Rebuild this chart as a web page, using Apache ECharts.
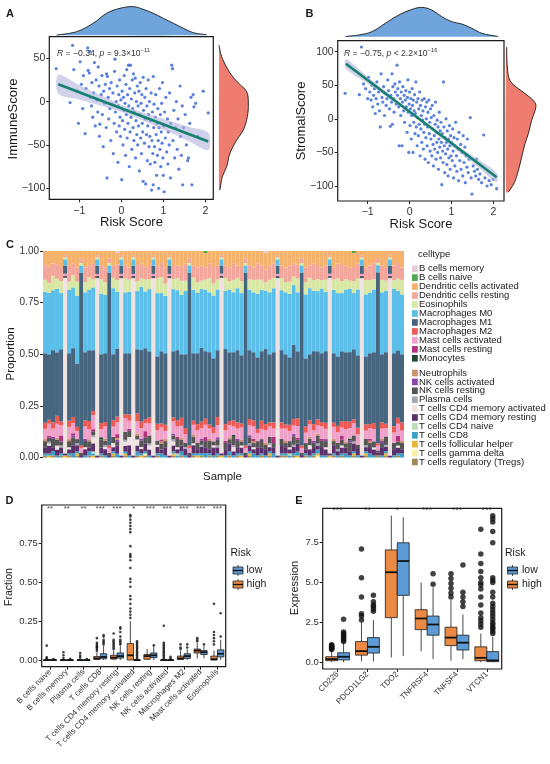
<!DOCTYPE html>
<html>
<head>
<meta charset="utf-8">
<script src="https://cdn.jsdelivr.net/npm/echarts/dist/echarts.min.js"></script>
<style>
html,body{margin:0;padding:0;background:#fff}
#main{width:550px;height:764px}
</style>
</head>
<body>
<div id="main"></div>
<script>
var FONT = 'Liberation Sans, Arial, sans-serif';

// ---------- A: ImmuneScore vs Risk Score ----------
var immunePts = [
  [-1.55,38],[-1.22,-1],[-1.16,65],[-1.13,37],[-1.05,12],[-1.02,-25],[-0.98,46],[-0.95,20],[-0.92,-8],
  [-0.9,30],[-0.86,-37],[-0.84,15],[-0.8,62],[-0.79,36],[-0.76,33],[-0.75,58],[-0.73,5],[-0.71,-5],[-0.7,22],
  [-0.68,-18],[-0.66,10],[-0.64,45],[-0.62,-28],[-0.6,25],[-0.58,2],[-0.56,-12],[-0.55,40],[-0.53,18],[-0.52,-40],[-0.51,-26],
  [-0.48,8],[-0.46,30],[-0.45,-15],[-0.43,-52],[-0.42,12],[-0.4,-2],[-0.38,20],[-0.36,-30],[-0.35,32],[-0.34,-88],
  [-0.33,29],[-0.31,5],[-0.3,-20],[-0.28,15],[-0.27,-8],[-0.25,-45],[-0.24,22],[-0.22,-3],[-0.2,10],[-0.19,-60],
  [-0.17,-25],[-0.16,35],[-0.15,49],[-0.14,-12],[-0.12,0],[-0.11,-35],[-0.1,18],[-0.08,-70],[-0.07,-5],[-0.06,8],
  [-0.05,-28],[-0.04,25],[-0.03,-18],[-0.02,-40],[-0.01,2],
  [0.01,-90],[0.02,12],[0.03,-22],[0.04,-50],[0.05,5],[0.06,-10],[0.07,30],[0.08,-32],[0.09,-2],[0.1,-62],
  [0.11,20],[0.12,-15],[0.13,37],[0.14,-42],[0.15,8],[0.16,-25],[0.17,42],[0.18,-5],[0.19,-75],[0.2,15],
  [0.21,-35],[0.22,42],[0.23,-18],[0.24,3],[0.25,-55],[0.26,25],[0.27,-8],[0.28,-30],[0.29,32],[0.3,-45],
  [0.31,-12],[0.32,10],[0.33,27],[0.34,-65],[0.35,-22],[0.36,0],[0.37,-38],[0.38,18],[0.39,-50],[0.4,-5],
  [0.41,-28],[0.42,12],[0.43,-80],[0.44,-15],[0.45,22],[0.46,-42],[0.47,-2],[0.48,-60],[0.49,8],[0.5,-25],
  [0.51,-35],[0.52,28],[0.52,-92],[0.53,-10],[0.55,-48],[0.56,5],[0.57,-20],[0.58,-95],[0.59,15],[0.6,-38],
  [0.61,-5],[0.62,-68],[0.63,-28],[0.64,25],[0.65,-15],[0.66,-52],[0.67,0],[0.68,-40],[0.69,-72],[0.7,-22],
  [0.71,10],[0.72,-102],[0.73,-45],[0.74,-12],[0.75,-60],[0.76,29],[0.76,-96],[0.77,-30],[0.78,-3],[0.79,-52],
  [0.8,-70],[0.81,-18],[0.82,8],[0.83,-38],[0.84,-85],[0.85,-25],[0.86,-62],[0.87,-8],[0.88,-45],[0.89,-100],
  [0.9,-30],[0.91,15],[0.92,-55],[0.93,-15],[0.94,-75],[0.95,-35],[0.96,-2],[0.97,-48],[0.98,22],[0.99,-65],
  [1.0,-85],[1.01,-28],[1.02,-104],[1.03,-12],[1.05,-42],[1.06,5],[1.08,-58],[1.1,-20],[1.11,-72],[1.12,-35],
  [1.14,-50],[1.15,10],[1.17,-88],[1.18,-25],[1.2,42],[1.22,38],[1.23,-45],[1.25,-10],[1.27,-65],[1.29,-30],
  [1.31,0],[1.33,-55],[1.35,-20],[1.37,-78],[1.4,18],[1.41,-40],[1.43,-62],[1.45,-5],[1.46,-96],[1.48,-30],
  [1.52,-15],[1.55,-50],[1.58,-68],[1.6,-65],[1.63,-25],[1.66,5],[1.68,-96],[1.71,8],[1.73,-6],[1.77,-2],
  [1.82,-40],[1.95,12],[2.07,-13]
];
var immuneFit = [[-1.5, 20], [2.07, -46]];
var immuneBandX = [-1.5, -1, -0.5, 0, 0.4, 0.8, 1.2, 1.6, 2.07];
var immuneBandHi = [31, 19, 7.5, -3.5, -10.5, -17, -23, -29, -36];
var immuneBandLo = [9, 2.5, -4.5, -12, -19.5, -28, -36.5, -45.5, -56];
var riskDensAX = [-1.54, -1.06, -0.67, -0.35, -0.03, 0.29, 0.52, 0.76, 1.0, 1.24, 1.48, 1.71, 2.03];
var riskDensA = [0.005, 0.055, 0.18, 0.33, 0.405, 0.43, 0.39, 0.33, 0.255, 0.18, 0.105, 0.04, 0.01];
var immuneDensY = [65.3, 51.8, 33, 21.5, 11.5, -1.6, -17.4, -32.7, -44.3, -59.3, -75, -86.6, -102];
var immuneDens = [0, 0.04, 0.165, 0.29, 0.415, 0.44, 0.425, 0.365, 0.265, 0.165, 0.115, 0.05, 0.015];

// ---------- B: StromalScore vs Risk Score ----------
var stromalPts = [
  [-1.54,38],[-1.2,36],[-1.15,107],[-1.1,52],[-1.05,45],[-1.0,30],[-0.98,62],
  [-0.95,40],[-0.92,28],[-0.9,50],[-0.88,18],[-0.86,35],[-0.84,45],[-0.82,8],[-0.8,30],[-0.78,55],[-0.76,22],
  [-0.74,40],[-0.72,12],[-0.7,-12],[-0.68,67],[-0.66,32],[-0.64,25],[-0.62,48],[-0.6,5],[-0.58,38],[-0.56,20],
  [-0.54,30],[-0.52,58],
  [-0.5,42],[-0.48,15],[-0.46,-11],[-0.45,35],[-0.43,25],[-0.42,67],[-0.41,-8],[-0.4,48],[-0.38,30],[-0.37,10],
  [-0.35,52],[-0.34,40],[-0.32,22],[-0.3,80],[-0.29,35],[-0.28,45],[-0.26,18],[-0.25,-40],[-0.24,55],[-0.22,30],
  [-0.21,5],[-0.2,40],[-0.18,-40],[-0.17,25],[-0.16,48],[-0.14,12],[-0.13,35],[-0.12,-5],[-0.1,28],[-0.09,42],
  [-0.08,18],[-0.06,-20],[-0.05,32],[-0.04,58],[-0.03,10],[-0.02,-50],[-0.01,22],
  [0.0,40],[0.01,-10],[0.02,15],[0.03,30],[0.04,-30],[0.05,5],[0.06,45],[0.07,20],[0.08,-50],[0.09,28],
  [0.1,-5],[0.11,12],[0.12,36],[0.13,-22],[0.14,8],[0.15,55],[0.16,-12],[0.17,25],[0.18,-40],[0.19,2],
  [0.2,30],[0.21,-25],[0.22,15],[0.23,-8],[0.24,40],[0.25,-55],[0.26,20],[0.27,-15],[0.28,5],[0.29,-35],
  [0.3,28],[0.31,-2],[0.32,12],[0.33,-45],[0.34,-20],[0.35,30],[0.36,-8],[0.37,-60],[0.38,18],[0.39,-28],
  [0.4,0],[0.41,25],[0.42,-40],[0.43,-12],[0.44,10],[0.45,-65],[0.46,28],[0.47,-22],[0.48,-5],[0.49,-48],[0.5,15],
  [0.51,-30],[0.52,2],[0.53,-55],[0.54,20],[0.55,-15],[0.56,-38],[0.57,-70],[0.58,5],[0.59,-25],[0.6,-45],
  [0.61,-8],[0.62,25],[0.63,-60],[0.64,-20],[0.65,-35],[0.66,-2],[0.67,-50],[0.68,-12],[0.69,-75],[0.7,-30],
  [0.71,10],[0.72,-42],[0.73,-18],[0.74,-58],[0.75,-5],[0.76,-35],[0.77,-98],[0.78,-22],[0.79,-48],[0.8,-65],
  [0.81,55],[0.82,-12],[0.83,-40],[0.84,-80],[0.85,-28],[0.86,-52],[0.87,0],[0.88,-35],[0.89,-68],[0.9,-18],
  [0.91,-45],[0.92,-85],[0.93,-30],[0.94,-58],[0.95,-10],[0.96,-40],[0.97,-75],[0.98,-25],[0.99,-55],
  [1.0,-35],[1.02,-62],[1.03,-15],[1.04,-48],[1.05,-88],[1.06,-28],[1.08,-70],[1.09,-40],[1.1,-5],[1.12,-55],
  [1.13,-78],[1.14,-30],[1.16,-45],[1.17,-92],[1.18,-20],[1.2,-62],[1.22,-38],[1.23,-75],[1.25,-50],[1.27,-85],
  [1.28,-25],[1.3,-65],[1.32,-42],[1.33,-95],[1.35,-55],[1.37,-72],[1.38,-30],[1.4,-80],[1.42,-60],[1.45,2],
  [1.47,-88],[1.49,-112],
  [1.52,-70],[1.55,-78],[1.58,-85],[1.6,-60],[1.62,-75],[1.65,-90],[1.68,-82],[1.72,-95],[1.77,-24],[1.8,-88],
  [1.85,-100],[1.9,-92],[1.95,-98],[2.0,-90],[2.08,-104]
];
var stromalFit = [[-1.52, 82], [2.08, -87]];
var stromalBandX = [-1.52, -1, -0.5, 0, 0.4, 0.8, 1.2, 1.6, 2.08];
var stromalBandHi = [89, 62.5, 37.5, 13, -5.5, -24, -42, -59, -80];
var stromalBandLo = [75, 52.5, 30.5, 8, -10.5, -30, -50, -70, -94];
var riskDensBX = [-1.54, -1.22, -0.9, -0.58, -0.26, 0.06, 0.29, 0.53, 0.77, 1.01, 1.25, 1.49, 1.73, 2.11];
var riskDensB = [0.003, 0.025, 0.075, 0.2, 0.325, 0.41, 0.44, 0.4, 0.3, 0.225, 0.19, 0.125, 0.05, 0.005];
var stromalDensY = [107, 77, 57, 45, 32, 22, 12, -2, -22, -37, -57, -77, -95, -109];
var stromalDens = [0.01, 0.02, 0.06, 0.185, 0.36, 0.445, 0.435, 0.385, 0.335, 0.285, 0.235, 0.185, 0.125, 0.035];

// ---------- C: CIBERSORT proportions (percent per sample) ----------
var cellTypes = ['B cells memory','B cells naive','Dendritic cells activated','Dendritic cells resting','Eosinophils',
  'Macrophages M0','Macrophages M1','Macrophages M2','Mast cells activated','Mast cells resting','Monocytes',
  'Neutrophils','NK cells activated','NK cells resting','Plasma cells','T cells CD4 memory activated',
  'T cells CD4 memory resting','T cells CD4 naive','T cells CD8','T cells follicular helper','T cells gamma delta',
  'T cells regulatory (Tregs)'];
var cellColors = ['#E4CCDA','#4DAA50','#F5B26C','#F3A79C','#D8E7A6','#5BBFEA','#48657F','#EC5A55','#EFA2C9',
  '#B2317C','#1F4A30','#C8926C','#8F45A8','#555555','#A3A8B2','#EEE3E1','#5A2F6A','#BADDB5','#3B9FC7',
  '#E5B73C','#FAF0A8','#A28B57'];
var bMem = [0,0,0,0,0,0,0,0,0,0, 0,0,0,0,0,0,0,0,1,0, 0,0,0,0,0,0,0,0,0,0, 0,0,0,0,0,0,0,0,0,0, 0,0,0,0,0,0,0,0,0,0,
  0,0,0,0,0,1,0,0,0,0, 0,0,0,0,0,0,0,0,0,0, 0,0,0,0,0,0,0,0,0,0, 0,0,0,0,0,0,0,0,0,0];
var bNaive = [0,0,0,0,0,0,0,0,0,0, 0,0,0,0,0,0,0,0,0,0, 0,0,0,0,0,0,0,0,0,0, 0,0,0,0,0,0,0,0,0,0, 1,0,0,0,0,0,0,0,0,0,
  0,0,0,0,0,0,0,0,0,0, 0,0,0,0,0,0,0,0,0,0, 0,0,0,0,0,0,0,1,0,0, 0,0,0,0,0,0,0,0,0,0];
var dcAct = [7,8,6,7,8,2,7,6,8,3, 8,7,6,2,7,8,3,7,6,2, 7,8,2,7,6,8,7,2,7,6, 8,2,7,7,8,6,3,7,8,7, 7,6,8,7,2,7,8,6,7,8,
  3,7,8,6,7,8,7,6,2,7, 8,7,6,7,3,8,7,6,7,8, 7,2,8,6,7,7,8,7,6,2, 8,7,6,3,7,8,2,7,6,8];
var dcRest = [7,8,6,7,7,1,8,6,7,2, 7,6,8,1,7,7,2,6,8,1, 7,6,1,8,7,6,7,1,6,7, 8,1,7,6,7,8,2,6,7,7, 6,7,8,7,1,6,7,8,6,7,
  2,7,6,8,7,6,7,7,1,6, 7,8,6,7,2,7,6,8,7,6, 7,1,6,7,8,7,6,7,7,1, 6,7,8,2,7,6,1,7,8,6];
var eos = [6,5,7,5,6,1,4,6,7,1, 5,6,4,1,7,6,1,5,6,1, 7,6,1,5,4,6,5,1,7,8, 6,1,5,6,7,5,1,6,5,4, 5,7,6,5,1,6,4,6,5,6,
  1,5,6,7,5,4,6,5,1,6, 5,6,4,7,1,6,5,5,6,4, 6,1,5,7,6,5,4,6,5,1, 7,6,5,1,6,5,1,4,6,7];
var m0 = [30,31,29,32,28,3,31,30,33,3, 29,30,31,3,30,28,3,32,29,3, 31,30,3,29,30,28,31,3,30,29, 28,3,31,29,30,30,3,31,29,28,
  30,29,31,30,3,28,31,29,30,31, 3,30,29,31,30,28,30,31,3,29, 30,31,28,30,3,31,32,29,30,31, 29,3,31,30,29,31,30,28,31,3,
  30,29,31,3,30,29,3,31,30,29];
var m1 = [34,33,35,32,36,4,33,34,31,72, 33,35,30,4,34,33,72,32,35,4, 31,30,4,32,34,35,33,4,32,36, 35,4,33,34,32,35,72,33,34,35,
  33,35,34,33,4,36,34,33,35,34, 72,34,33,35,34,36,33,34,4,35, 34,33,35,34,72,33,32,35,34,33, 35,4,34,33,35,34,33,35,34,4,
  33,34,35,72,33,34,4,35,34,33];
var m2 = [3,2,3,4,2,0,3,3,2,1, 3,4,2,0,3,2,1,3,3,0, 2,3,0,4,3,2,3,0,3,2, 3,0,2,3,4,3,1,2,3,3, 3,2,3,4,0,3,2,3,3,2,
  1,3,3,2,4,3,2,3,0,3, 2,3,3,4,1,3,2,3,3,2, 3,0,2,3,3,4,3,2,3,0, 3,2,3,1,3,2,0,3,3,4];
var mastAct = [5,6,4,7,5,1,6,5,4,2, 6,5,7,1,4,6,2,5,6,1, 7,4,1,6,5,4,6,1,5,6, 4,1,6,5,6,4,2,5,6,5, 6,5,4,6,1,5,6,4,5,6,
  2,5,6,4,5,6,5,4,1,5, 6,5,4,6,2,5,6,5,4,6, 5,1,6,5,4,6,5,6,5,1, 4,5,6,2,5,4,1,5,6,5];
var mastRest = [0,1,0,0,3,0,0,1,0,0, 0,0,1,0,0,0,0,0,2,0, 0,1,0,0,0,3,0,0,0,1, 0,0,0,1,0,0,0,0,0,0, 2,0,0,0,0,1,0,0,0,0,
  0,0,1,0,0,0,0,3,0,0, 0,0,0,1,0,0,0,0,0,1, 0,0,0,0,2,0,0,0,0,0, 0,1,0,0,0,0,0,0,3,0];
var mono = [0,0,0,0,0,0,0,0,0,0, 0,0,0,0,1,0,0,0,0,0, 0,0,0,0,0,0,0,0,0,0, 0,0,0,0,0,0,0,0,0,0, 0,0,0,0,0,0,0,1,0,0,
  0,0,0,0,0,0,0,0,0,0, 0,0,0,0,0,0,0,0,0,0, 0,0,0,0,0,0,1,0,0,0, 0,0,0,0,0,0,0,0,0,0];
var neut = [1,0,0,1,0,0,1,0,0,0, 0,1,0,0,0,1,0,0,1,0, 0,0,0,1,0,0,0,0,0,1, 1,0,0,0,1,0,0,1,0,0, 0,1,0,0,0,0,1,0,0,1,
  0,0,1,0,0,1,0,0,0,0, 1,0,0,0,0,0,1,0,1,0, 0,0,1,0,0,1,0,0,0,0, 0,1,0,0,1,0,0,0,0,1];
var nkAct = [0,0,1,0,0,0,0,1,0,0, 1,0,0,0,0,0,0,0,1,0, 0,0,0,0,1,0,0,0,0,0, 0,0,1,0,0,0,0,0,0,1, 0,0,0,1,0,0,0,0,1,0,
  0,1,0,0,0,0,0,0,0,0, 0,0,1,0,0,0,0,1,0,0, 1,0,0,0,0,0,1,0,0,0, 0,0,0,0,1,0,0,0,0,0];
var nkRest = [3,2,4,3,2,1,3,4,2,1, 3,3,2,1,4,2,1,3,2,1, 4,3,1,2,3,3,4,1,2,3, 3,1,2,4,3,2,1,3,3,2, 3,4,2,3,1,3,2,4,3,2,
  1,3,2,3,4,2,3,2,1,3, 2,3,4,2,1,3,3,2,4,3, 3,1,2,3,3,2,4,3,2,1, 3,2,3,1,2,4,1,3,2,3];
var plasma = [0,1,0,0,1,0,0,0,1,0, 0,0,1,0,0,1,0,0,0,0, 1,0,0,0,0,0,1,0,0,0, 0,0,1,0,0,1,0,0,0,1, 0,0,0,1,0,0,0,1,0,0,
  0,1,0,0,0,0,1,0,0,0, 0,0,1,0,0,0,0,0,1,0, 0,0,0,1,0,0,0,1,0,0, 1,0,0,0,0,1,0,0,0,0];
var cd4Act = [0,1,0,2,0,85,1,0,0,0, 1,0,3,85,0,1,0,2,0,85, 2,4,85,3,1,0,2,85,1,0, 0,85,2,1,0,0,0,1,0,0, 0,0,1,0,85,0,0,2,0,1,
  0,0,1,0,0,0,1,0,85,0, 0,1,0,0,0,0,2,0,0,0, 1,85,0,0,1,0,0,0,0,85, 0,0,1,0,0,0,85,0,1,0];
var cd4Rest = [3,4,2,3,3,1,2,4,3,1, 3,2,4,1,3,3,1,2,4,1, 3,5,1,3,2,4,3,1,3,2, 4,1,3,2,3,3,1,4,2,3, 3,2,4,3,1,3,4,2,3,3,
  1,3,2,4,3,3,2,3,1,4, 3,2,3,4,1,2,3,3,2,4, 3,1,4,2,3,3,2,4,3,1, 2,3,3,1,4,2,1,3,3,2];
var cd4Naive = [0,0,0,0,0,0,0,0,0,0, 0,0,1,0,0,0,0,0,0,0, 0,0,0,0,0,0,0,0,0,0, 0,0,0,1,0,0,0,0,0,0, 0,0,0,0,0,0,0,0,0,0,
  0,0,0,0,0,0,0,0,0,0, 0,1,0,0,0,0,0,0,0,0, 0,0,0,0,0,0,0,0,0,0, 0,0,0,0,0,0,0,0,0,0];
var cd8 = [1,1,2,1,1,0,1,2,1,0, 1,2,1,0,1,1,0,1,2,0, 1,1,0,2,1,1,1,0,1,2, 1,0,1,1,2,1,0,1,1,1, 2,1,1,1,0,1,2,1,1,1,
  0,1,2,1,1,1,1,2,0,1, 1,1,1,2,0,1,1,1,2,1, 1,0,1,1,1,2,1,1,1,0, 1,2,1,0,1,1,0,1,1,2];
var tfh = [0,1,0,0,0,1,0,0,1,0, 0,0,1,0,0,0,0,1,0,0, 1,0,0,0,1,0,0,0,0,0, 0,0,1,0,0,0,0,0,1,0, 0,0,0,0,1,0,0,0,0,1,
  0,1,0,0,0,0,1,0,0,0, 0,0,0,1,0,0,0,0,1,0, 0,1,0,0,0,0,0,1,0,0, 1,0,0,0,0,1,0,0,0,0];
var tgd = [0,0,0,0,0,0,0,0,0,0, 0,0,0,0,0,0,0,0,0,0, 0,0,0,0,0,1,0,0,0,0, 0,0,0,0,0,0,0,0,0,0, 0,0,0,0,0,0,0,0,0,0,
  0,0,0,0,0,0,0,0,0,0, 0,0,0,0,0,0,0,0,1,0, 0,0,0,0,0,0,0,0,0,0, 0,0,0,0,0,0,0,0,0,0];
var treg = [1,0,1,0,1,0,1,0,1,0, 0,1,0,0,1,0,0,1,0,0, 1,0,0,1,0,1,0,0,1,0, 0,0,1,0,1,0,0,1,0,1, 0,1,0,1,0,0,1,0,1,0,
  0,1,0,0,1,0,1,0,0,1, 1,0,1,0,0,1,0,1,0,0, 0,0,1,0,1,0,0,1,0,0, 1,0,0,1,0,1,0,0,1,0];
var cellValues = [bMem, bNaive, dcAct, dcRest, eos, m0, m1, m2, mastAct, mastRest, mono, neut, nkAct, nkRest,
  plasma, cd4Act, cd4Rest, cd4Naive, cd8, tfh, tgd, treg];

// ---------- D: immune cell fractions by risk ----------
var dCats = ['B cells naive','B cells memory','Plasma cells','T cells CD8','T cells CD4 memory resting',
  'T cells CD4 memory activated','NK cells resting','NK cells activated','Macrophages M2','Mast cells activated','Eosinophils'];
var dStars = ['**','**','**','***','***','*','***','***','***','***','***'];
// [min, q1, median, q3, max]
var dHigh = [[0,0,0,0,0],[0,0,0,0,0],[0,0,0,0,0],[0,0.004,0.01,0.022,0.05],[0,0.006,0.015,0.03,0.06],
  [0,0,0.03,0.105,0.25],[0,0.005,0.025,0.035,0.07],[0,0,0,0,0],[0,0.003,0.01,0.025,0.06],[0.01,0.045,0.06,0.07,0.11],[0,0,0.005,0.025,0.06]];
var dLow = [[0,0,0,0,0],[0,0,0,0,0],[0,0,0,0,0],[0,0.008,0.02,0.04,0.09],[0,0.012,0.025,0.045,0.09],
  [0,0,0,0,0],[0,0.015,0.03,0.045,0.09],[0,0,0,0,0],[0,0.01,0.025,0.04,0.07],[0.01,0.035,0.05,0.06,0.09],[0,0.02,0.04,0.065,0.13]];
var dHighOut = [[0.092,0.018,0.01],[0.05,0.03,0.012],[0.045,0.028,0.015],[0.06,0.07,0.08,0.085,0.09,0.1,0.11,0.14],
  [0.07,0.08,0.09,0.1,0.11,0.12,0.13,0.17],
  [0.27,0.29,0.31,0.33,0.36,0.39,0.41,0.47,0.5,0.52,0.59,0.64,0.66,0.67,0.68,0.73,0.82,0.84,0.86,0.88,0.9,0.92,0.93],
  [],[0.01,0.02,0.03,0.04,0.05,0.06,0.07,0.08,0.09,0.1,0.11,0.22],[0.07,0.08,0.1],[0.12,0.13,0.14],[0.1,0.12,0.14,0.16,0.18,0.36]];
var dLowOut = [[0.006],[0.008],[0.006],[0.1,0.11,0.12,0.13,0.15,0.16],[0.1,0.11,0.12,0.13,0.15,0.18,0.2,0.21],
  [0.01,0.02,0.03,0.04,0.05,0.06,0.07,0.08,0.09,0.1,0.11,0.12],[0.095],[0.01,0.02],[0.08,0.1],[0.1],[0.15,0.3]];

// ---------- E: immune checkpoint expression by risk ----------
var eCats = ['CD226','PDCD1LG2','TDO2','TNFRSF4','TNFSF4','VTCN1'];
var eStars = ['***','**','*','***','***','***'];
var eHigh = [[0,0.1,0.2,0.35,0.7],[0.05,0.45,0.7,1.3,2.5],[0.3,2.8,5.65,7.05,9.2],[0.7,2.05,2.75,3.3,5.0],
  [0.1,1.05,1.55,2.2,3.9],[0,0.1,0.28,0.97,1.8]];
var eLow = [[0,0.15,0.35,0.6,1.2],[0.05,0.58,0.97,1.55,2.65],[0.4,4.2,6.35,7.5,9.1],[0.2,1.7,2.37,2.9,4.7],
  [0.2,0.77,1.23,1.7,3.0],[0,0.04,0.12,0.67,1.6]];
var eHighOut = [[0.8,0.85,0.9,0.95,1.0,1.05,1.1],[2.65,2.9,3.05,4.1,5.3,7.1],[],[],[4.1,4.35,4.65,4.95,5.25,5.55],
  [2.2,2.4,2.6,2.8,3.1,3.6,4.1,4.6,4.85,5.0,5.3,5.7,6.2,6.8,8.35]];
var eLowOut = [[1.3,1.4,1.5,1.6,1.7,1.8,1.9,2.7],[3.2,3.35,3.5,3.6,3.8,4.2],[],[4.9,5.55],[3.5,3.8,4.1,4.4,6.1],
  [1.8,1.95,2.1,2.2,2.35,2.5,2.7,2.9,3.1,3.3,3.5,3.7,4.1,4.4,5.0,5.15,5.3,7.5,8.2,8.8,9.0,9.2]];

var highColor = '#EB8A44';
var lowColor = '#5C9BD5';

// ---------- helpers ----------
function minusFmt(v) { return v < 0 ? '\u2212' + (-v) : String(v); }

function valAxis(grid, min, max, ticks, size, fmt, margin) {
  return {
    type: 'value', gridIndex: grid, min: min, max: max,
    axisLine: {show: false, onZero: false}, splitLine: {show: false},
    axisTick: {show: true, length: 3, customValues: ticks, lineStyle: {color: '#222', width: 1}},
    axisLabel: {show: true, customValues: ticks, fontSize: size, color: '#333', fontFamily: FONT,
      margin: margin, formatter: fmt}
  };
}
function hidAxis(grid, min, max, pos) {
  var a = {type: 'value', gridIndex: grid, min: min, max: max, show: false, axisLine: {onZero: false}};
  if (pos) a.position = pos;
  return a;
}
function catAxis(grid, cats, size) {
  return {
    type: 'category', gridIndex: grid, data: cats, boundaryGap: true, position: 'bottom',
    axisLine: {show: false, onZero: false}, splitLine: {show: false},
    axisTick: {show: true, alignWithLabel: true, length: 3, lineStyle: {color: '#222', width: 1}},
    axisLabel: {show: true, interval: 0, rotate: 45, fontSize: size, color: '#333', fontFamily: FONT, margin: 4}
  };
}

function polySeries(xi, yi, pts, fill, stroke, smooth, z) {
  return {
    type: 'custom', xAxisIndex: xi, yAxisIndex: yi, silent: true, z: z || 2,
    data: [[0, 0]],
    renderItem: function (params, api) {
      var c = pts.map(function (p) { return api.coord(p); });
      var kids = [{type: 'polygon', shape: {points: c, smooth: smooth}, style: {fill: fill}}];
      if (stroke) {
        kids.push({type: 'polyline', shape: {points: c.slice(1, c.length - 1), smooth: smooth},
          style: {stroke: stroke, lineWidth: 0.9, fill: 'none'}});
      }
      return {type: 'group', children: kids};
    }
  };
}
function topDens(xs, ds) {
  var p = [[xs[0], 0]];
  xs.forEach(function (x, i) { p.push([x, ds[i]]); });
  p.push([xs[xs.length - 1], 0]);
  return p;
}
function sideDens(ys, ds) {
  var p = [[0, ys[0]]];
  ys.forEach(function (y, i) { p.push([ds[i], y]); });
  p.push([0, ys[ys.length - 1]]);
  return p;
}
function bandPts(xs, hi, lo) {
  var p = [];
  xs.forEach(function (x, i) { p.push([x, hi[i]]); });
  for (var i = xs.length - 1; i >= 0; i--) p.push([xs[i], lo[i]]);
  return p;
}

function boxSeries(xi, yi, stats, offset, fill, halfW) {
  return {
    type: 'custom', xAxisIndex: xi, yAxisIndex: yi, z: 3,
    encode: {x: 0, y: [1, 2, 3, 4, 5]},
    data: stats.map(function (s, i) { return [i + offset].concat(s); }),
    renderItem: function (params, api) {
      var x = api.value(0);
      var pMin = api.coord([x, api.value(1)]), pQ1 = api.coord([x, api.value(2)]);
      var pQ3 = api.coord([x, api.value(4)]), pMax = api.coord([x, api.value(5)]);
      var a = api.coord([x - halfW, api.value(2)]), b = api.coord([x + halfW, api.value(4)]);
      var mL = api.coord([x - halfW, api.value(3)]), mR = api.coord([x + halfW, api.value(3)]);
      var ln = {stroke: '#1a1a1a', lineWidth: 0.8};
      return {type: 'group', children: [
        {type: 'line', shape: {x1: pMax[0], y1: pMax[1], x2: pQ3[0], y2: pQ3[1]}, style: ln},
        {type: 'line', shape: {x1: pQ1[0], y1: pQ1[1], x2: pMin[0], y2: pMin[1]}, style: ln},
        {type: 'rect', shape: {x: a[0], y: b[1], width: b[0] - a[0], height: Math.max(a[1] - b[1], 0.5)},
          style: {fill: fill, stroke: '#1a1a1a', lineWidth: 0.8}},
        {type: 'line', shape: {x1: mL[0], y1: mL[1], x2: mR[0], y2: mR[1]}, style: {stroke: '#111', lineWidth: 1.8}}
      ]};
    }
  };
}
function outSeries(xi, yi, outs, offset, size) {
  var d = [];
  outs.forEach(function (arr, i) { arr.forEach(function (v) { d.push([i + offset, v]); }); });
  return {type: 'scatter', xAxisIndex: xi, yAxisIndex: yi, data: d, symbolSize: size, z: 4,
    itemStyle: {color: '#111'}, silent: true};
}
function starSeries(xi, yi, stars, yv, size) {
  return {type: 'scatter', xAxisIndex: xi, yAxisIndex: yi, symbolSize: 0.1, z: 5, silent: true,
    itemStyle: {color: 'rgba(0,0,0,0)'},
    data: stars.map(function (s, i) { return [i, yv, s]; }),
    label: {show: true, position: 'inside', formatter: function (p) { return p.value[2]; },
      fontSize: size, color: '#222', fontFamily: FONT}};
}

function txt(s, x, y, size, align, extra) {
  var el = {type: 'text', x: x, y: y, silent: true,
    style: {text: s, fontSize: size, fontFamily: FONT, fill: '#1a1a1a',
      align: align || 'center', verticalAlign: 'middle'}};
  if (extra) {
    if (extra.rotation) el.rotation = extra.rotation;
    if (extra.bold) el.style.fontWeight = 'bold';
    if (extra.rich) el.style.rich = extra.rich;
  }
  return el;
}
function riskLegend(x0, tx) {
  var els = [txt('Risk', x0, 553, 10.5, 'left')];
  [['low', lowColor, 570.5], ['high', highColor, 584.5]].forEach(function (e) {
    var cy = e[2];
    els.push({type: 'line', silent: true, shape: {x1: x0 + 7.5, y1: cy - 5.5, x2: x0 + 7.5, y2: cy + 5.5},
      style: {stroke: '#222', lineWidth: 0.8}});
    els.push({type: 'rect', silent: true, shape: {x: x0 + 2.5, y: cy - 3.5, width: 10, height: 7},
      style: {fill: e[1], stroke: '#222', lineWidth: 0.8}});
    els.push({type: 'line', silent: true, shape: {x1: x0 + 2.5, y1: cy, x2: x0 + 12.5, y2: cy},
      style: {stroke: '#111', lineWidth: 1.4}});
    els.push(txt(e[0], tx, cy, 10.5, 'left'));
  });
  return els;
}

// ---------- build ----------
var sampleIds = m1.map(function (v, i) { return 'S' + (i + 1); });
var sampleTotals = m1.map(function (v, i) {
  var t = 0; cellValues.forEach(function (arr) { t += arr[i]; }); return t;
});
var cSeries = [];
for (var k = cellTypes.length - 1; k >= 0; k--) {
  cSeries.push({
    name: cellTypes[k], type: 'bar', stack: 'cell', xAxisIndex: 6, yAxisIndex: 6,
    barCategoryGap: '0%', itemStyle: {color: cellColors[k]}, silent: true,
    data: cellValues[k].map(function (v, i) { return v / sampleTotals[i]; })
  });
}

var sciRich = {
  i: {fontStyle: 'italic', fontSize: 8.6, fontFamily: FONT, fill: '#333', color: '#333'},
  n: {fontSize: 8.6, fontFamily: FONT, fill: '#333', color: '#333'},
  s: {fontSize: 5.8, fontFamily: FONT, fill: '#333', color: '#333', padding: [0, 0, 6, 0]}
};

var graphics = [
  txt('A', 10, 14, 11, 'center', {bold: true}),
  txt('B', 309.5, 14, 11, 'center', {bold: true}),
  txt('C', 10, 245, 11, 'center', {bold: true}),
  txt('D', 9.5, 501, 11, 'center', {bold: true}),
  txt('E', 299, 501, 11, 'center', {bold: true}),
  txt('ImmuneScore', 13.5, 119, 13, 'center', {rotation: Math.PI / 2}),
  txt('Risk Score', 131.5, 222, 13, 'center'),
  txt('StromalScore', 301, 121, 13, 'center', {rotation: Math.PI / 2}),
  txt('Risk Score', 421, 224, 13, 'center'),
  txt('{i|R}{n| = \u22120.34, }{i|p}{n| = 9.3\u00d710}{s|\u221211}', 57, 53.5, 8.6, 'left', {rich: sciRich}),
  txt('{i|R}{n| = \u22120.75, }{i|p}{n| < 2.2\u00d710}{s|\u221216}', 344, 53.5, 8.6, 'left', {rich: sciRich}),
  txt('Proportion', 11, 354, 11.5, 'center', {rotation: Math.PI / 2}),
  txt('Sample', 222.5, 477, 11.5, 'center'),
  txt('celltype', 418, 254, 9.5, 'left'),
  txt('Fraction', 9, 587, 10.5, 'center', {rotation: Math.PI / 2}),
  txt('Expression', 295, 588, 11, 'center', {rotation: Math.PI / 2})
];
cellTypes.forEach(function (name, i) {
  var cy = i < 11 ? 268.7 + 8.96 * i : 373 + 8.9 * (i - 11);
  graphics.push({type: 'rect', silent: true, shape: {x: 412, y: cy - 3.3, width: 5.8, height: 6.6},
    style: {fill: cellColors[i]}});
  graphics.push(txt(name, 419, cy, 9.5, 'left'));
});
graphics = graphics.concat(riskLegend(230.5, 246.5), riskLegend(505, 522));

var option = {
  animation: false,
  backgroundColor: '#ffffff',
  textStyle: {fontFamily: FONT},
  grid: [
    {left: 49.3, top: 36.7, width: 164, height: 162.6, show: true, borderColor: '#1a1a1a', borderWidth: 1.2, backgroundColor: 'transparent'},
    {left: 49.3, top: 5.3, width: 164, height: 30},
    {left: 219, top: 36.7, width: 31, height: 162.6},
    {left: 337.7, top: 40.7, width: 166.3, height: 160.3, show: true, borderColor: '#1a1a1a', borderWidth: 1.2, backgroundColor: 'transparent'},
    {left: 337.7, top: 6.7, width: 166.3, height: 30},
    {left: 506, top: 40.7, width: 31, height: 160.3},
    {left: 43, top: 251, width: 361, height: 206.5},
    {left: 41.7, top: 505, width: 184, height: 161.7, show: true, borderColor: '#1a1a1a', borderWidth: 1.2, backgroundColor: 'transparent'},
    {left: 322.7, top: 508.3, width: 179, height: 160.7, show: true, borderColor: '#1a1a1a', borderWidth: 1.2, backgroundColor: 'transparent'}
  ],
  xAxis: [
    valAxis(0, -1.714, 2.19, [-1, 0, 1, 2], 10.5, minusFmt, 6),
    hidAxis(1, -1.714, 2.19),
    hidAxis(2, 0, 0.465),
    valAxis(3, -1.717, 2.255, [-1, 0, 1, 2], 10.5, minusFmt, 6),
    hidAxis(4, -1.717, 2.255),
    hidAxis(5, 0, 0.465),
    {type: 'category', gridIndex: 6, data: sampleIds, show: false, axisLine: {onZero: false}},
    catAxis(7, dCats, 8),
    hidAxis(7, -0.5, dCats.length - 0.5, 'top'),
    catAxis(8, eCats, 8),
    hidAxis(8, -0.5, eCats.length - 0.5, 'top')
  ],
  yAxis: [
    valAxis(0, -112.7, 74.9, [-100, -50, 0, 50], 10.5, minusFmt, 4),
    hidAxis(1, 0, 0.45),
    hidAxis(2, -112.7, 74.9),
    valAxis(3, -122.3, 116.4, [-100, -50, 0, 50, 100], 10.5, minusFmt, 4),
    hidAxis(4, 0, 0.45),
    hidAxis(5, -122.3, 116.4),
    valAxis(6, 0, 1, [0, 0.25, 0.5, 0.75, 1], 10, function (v) { return v.toFixed(2); }, 4),
    valAxis(7, -0.043, 0.994, [0, 0.25, 0.5, 0.75], 9.5, function (v) { return v.toFixed(2); }, 4),
    valAxis(8, -0.42, 9.66, [0, 2.5, 5, 7.5], 9.5, function (v) { return v.toFixed(1); }, 4)
  ],
  series: [
    // A
    {type: 'scatter', xAxisIndex: 0, yAxisIndex: 0, data: immunePts, symbolSize: 3.2, silent: true,
      itemStyle: {color: '#2F62D2'}, z: 2},
    polySeries(0, 0, bandPts(immuneBandX, immuneBandHi, immuneBandLo), 'rgba(178,178,222,0.6)', null, 0.3, 3),
    {type: 'line', xAxisIndex: 0, yAxisIndex: 0, data: immuneFit, symbol: 'none', silent: true, z: 4,
      lineStyle: {color: '#14806E', width: 2.6}},
    polySeries(1, 1, topDens(riskDensAX, riskDensA), '#6FA5DA', '#1a1a1a', 0.35),
    polySeries(2, 2, sideDens(immuneDensY, immuneDens), '#EE7C6F', '#1a1a1a', 0.35),
    // B
    {type: 'scatter', xAxisIndex: 3, yAxisIndex: 3, data: stromalPts, symbolSize: 3.2, silent: true,
      itemStyle: {color: '#2F62D2'}, z: 2},
    polySeries(3, 3, bandPts(stromalBandX, stromalBandHi, stromalBandLo), 'rgba(178,178,222,0.6)', null, 0.3, 3),
    {type: 'line', xAxisIndex: 3, yAxisIndex: 3, data: stromalFit, symbol: 'none', silent: true, z: 4,
      lineStyle: {color: '#14806E', width: 2.6}},
    polySeries(4, 4, topDens(riskDensBX, riskDensB), '#6FA5DA', '#1a1a1a', 0.35),
    polySeries(5, 5, sideDens(stromalDensY, stromalDens), '#EE7C6F', '#1a1a1a', 0.35),
    // D
    boxSeries(8, 7, dHigh, -0.2, highColor, 0.19),
    boxSeries(8, 7, dLow, 0.2, lowColor, 0.19),
    outSeries(8, 7, dHighOut, -0.2, 2.6),
    outSeries(8, 7, dLowOut, 0.2, 2.6),
    starSeries(8, 7, dStars, 0.972, 8),
    // E
    boxSeries(10, 8, eHigh, -0.2, highColor, 0.2),
    boxSeries(10, 8, eLow, 0.2, lowColor, 0.2),
    outSeries(10, 8, eHighOut, -0.2, 5.5),
    outSeries(10, 8, eLowOut, 0.2, 5.5),
    starSeries(10, 8, eStars, 9.55, 9)
  ].concat(cSeries),
  graphic: graphics
};

var chart = echarts.init(document.getElementById('main'));
chart.setOption(option);
</script>
</body>
</html>
